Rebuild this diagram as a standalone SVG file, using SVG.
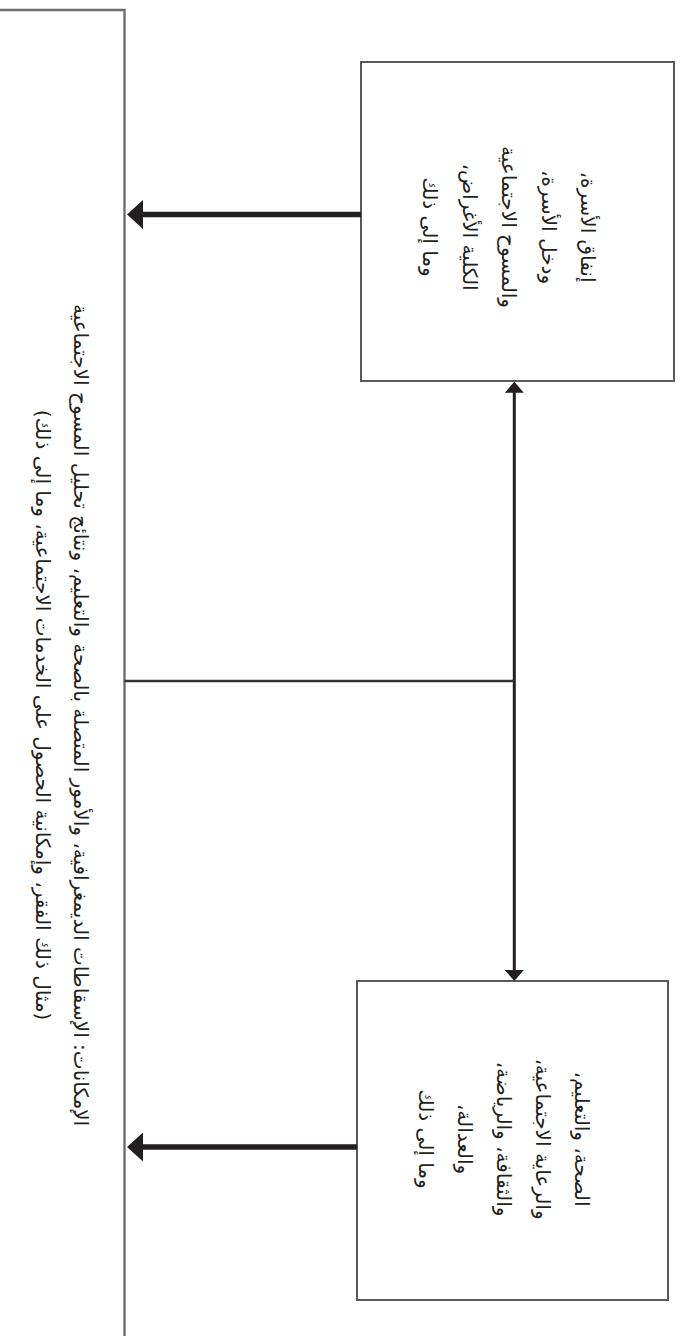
<svg xmlns="http://www.w3.org/2000/svg" width="680" height="1336" viewBox="0 0 680 1336">
  <defs>
    <style>
      .frame { fill: none; stroke: #6d6e71; stroke-width: 2.4; }
      .box { fill: #ffffff; stroke: #58595b; stroke-width: 2; }
      .thick { fill: none; stroke: #231f20; stroke-width: 5.5; }
      .link { fill: none; stroke: #231f20; stroke-width: 3; }
      .rule { fill: none; stroke: #333333; stroke-width: 2.6; }
      .lbl { font-family: "DejaVu Sans", "Noto Sans", sans-serif; font-size: 20px; fill: #231f20; text-anchor: middle; direction: rtl; }
    </style>
    <marker id="bigHead" viewBox="0 0 16 29" refX="2" refY="14.5" markerWidth="16" markerHeight="29" markerUnits="userSpaceOnUse" orient="auto">
      <path d="M0,0 L16,14.5 L0,29 Z" fill="#231f20"/>
    </marker>
    <marker id="smallHead" viewBox="0 0 11 19" refX="1" refY="9.5" markerWidth="11" markerHeight="19" markerUnits="userSpaceOnUse" orient="auto-start-reverse">
      <path d="M0,0 L11,9.5 L0,19 Z" fill="#231f20"/>
    </marker>
  </defs>

  <rect x="0" y="0" width="680" height="1336" fill="#ffffff"/>

  <!-- large frame on the left, open at the left and bottom -->
  <g id="capacities">
    <path class="frame" d="M0,10 H124.5 V1336"/>
    <g transform="translate(74,715) rotate(90)">
      <text class="lbl" x="0" y="0">الإمكانات: الإسقاطات الديمغرافية، والأمور المتصلة بالصحة والتعليم، ونتائج تحليل المسوح الاجتماعية</text>
      <text class="lbl" x="0" y="38">(مثال ذلك الفقر، وإمكانية الحصول على الخدمات الاجتماعية، وما إلى ذلك)</text>
    </g>
  </g>

  <!-- household box -->
  <g id="household">
    <rect class="box" x="361" y="62" width="313" height="319"/>
    <g transform="translate(581,227) rotate(90)">
      <text class="lbl" x="0" y="0">إنفاق الأسرة،</text>
      <text class="lbl" x="0" y="39.5">ودخل الأسرة،</text>
      <text class="lbl" x="0" y="79">والمسوح الاجتماعية</text>
      <text class="lbl" x="0" y="118.5">الكلية الأغراض،</text>
      <text class="lbl" x="0" y="158">وما إلى ذلك</text>
    </g>
  </g>

  <!-- services box -->
  <g id="services">
    <rect class="box" x="357" y="981" width="311" height="319"/>
    <g transform="translate(575,1139) rotate(90)">
      <text class="lbl" x="0" y="0">الصحة، والتعليم،</text>
      <text class="lbl" x="0" y="39">والرعاية الاجتماعية،</text>
      <text class="lbl" x="0" y="78">والثقافة، والرياضة،</text>
      <text class="lbl" x="0" y="117">والعدالة،</text>
      <text class="lbl" x="0" y="156">وما إلى ذلك</text>
    </g>
  </g>

  <!-- connectors -->
  <g id="connectors">
    <line class="thick" x1="361" y1="214.5" x2="141" y2="214.5" marker-end="url(#bigHead)"/>
    <line class="thick" x1="357" y1="1147" x2="141" y2="1147" marker-end="url(#bigHead)"/>
    <line class="link" x1="514.3" y1="391.7" x2="514.3" y2="971" marker-start="url(#smallHead)" marker-end="url(#smallHead)"/>
    <line class="rule" x1="124.5" y1="681" x2="515.6" y2="681"/>
  </g>
</svg>
